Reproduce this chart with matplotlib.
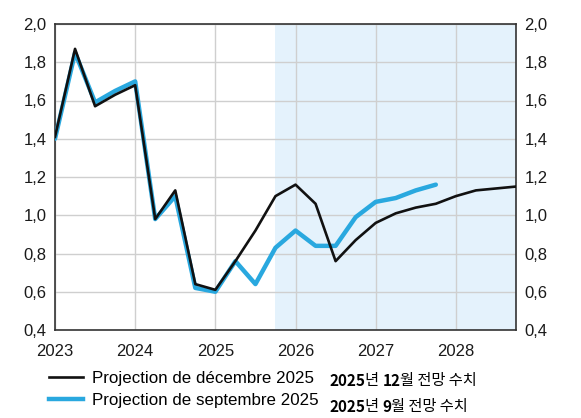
import numpy as np
import matplotlib
matplotlib.use("Agg")
import matplotlib.pyplot as plt

# quarterly points, 2023 Q1 .. 2028 Q4
quarters = np.arange(2023.0, 2029.0, 0.25)

proj_dec = [1.41, 1.87, 1.57, 1.63, 1.68, 0.98, 1.13, 0.64, 0.61, 0.76,
            0.92, 1.10, 1.16, 1.06, 0.76, 0.87, 0.96, 1.01, 1.04, 1.06,
            1.10, 1.13, 1.14, 1.15]
proj_sep = [1.40, 1.85, 1.59, 1.65, 1.70, 0.98, 1.10, 0.62, 0.60, 0.76,
            0.64, 0.83, 0.92, 0.84, 0.84, 0.99, 1.07, 1.09, 1.13, 1.16]

label_dec = "Projection de décembre 2025"
label_sep = "Projection de septembre 2025"
years = [2023, 2024, 2025, 2026, 2027, 2028]
yticks = [0.4, 0.6, 0.8, 1.0, 1.2, 1.4, 1.6, 1.8, 2.0]
shade_start = 2025.75

plt.rcParams['font.family'] = ['Liberation Sans', 'DejaVu Sans']

fig = plt.figure(figsize=(5.81, 4.18), dpi=100)
ax = fig.add_axes([55/581, 1 - 330/418, 461/581, 306/418])

ax.axvspan(shade_start, 2028.75, color='#e4f2fc', zorder=0, lw=0)
ax.plot(quarters[:len(proj_sep)], proj_sep, color='#29a8df', lw=3.2,
        label=label_sep, zorder=3, solid_capstyle='round')
ax.plot(quarters, proj_dec, color='#111111', lw=1.9, label=label_dec, zorder=4)

ax.set_xlim(2023, 2028.75)
ax.set_ylim(0.4, 2.0)
ax.set_xticks(years)
ax.set_xticklabels([str(y) for y in years])
ax.set_yticks(yticks)
ax.set_yticklabels([f"{v:.1f}".replace('.', ',') for v in yticks])
ax.grid(True, color='#cfcfcf', lw=1.0, zorder=1)
ax.set_axisbelow(True)
ax.tick_params(axis='both', length=0, labelsize=12, colors='#1a1a1a')
ax.tick_params(axis='y', pad=6, labelright=True, right=False)
ax.tick_params(axis='x', pad=10)
for s in ax.spines.values():
    s.set_color('#333333')
    s.set_linewidth(1.2)

# legend below the chart
h_dec, = ax.plot([], [], color='#111111', lw=1.9)
h_sep, = ax.plot([], [], color='#29a8df', lw=3.2)
fig.legend([h_dec, h_sep], [label_dec, label_sep], loc='upper left',
           bbox_to_anchor=(49/581, 1 - 371/418), frameon=False, fontsize=12.2,
           handlelength=2.0, handletextpad=0.55, labelspacing=0.42,
           borderaxespad=0, borderpad=0)

# Korean notes, bold numbers mixed with regular text
kfont = ['Noto Sans CJK KR', 'DejaVu Sans']

def annotate_chain(x, y, parts):
    t = ax.annotate(parts[0][0], xy=(x, y), xycoords='figure pixels',
                    family=kfont, fontsize=11, fontweight=parts[0][1],
                    va='baseline', ha='left', annotation_clip=False)
    for txt, w in parts[1:]:
        t = ax.annotate(txt, xy=(1, 0), xycoords=t, family=kfont,
                        fontsize=11, fontweight=w, va='bottom', ha='left',
                        annotation_clip=False)
    return t

annotate_chain(329, 418 - 386, [("2025", 'bold'), ("년 ", 'normal'),
                                ("12", 'bold'), ("월 전망 수치", 'normal')])
annotate_chain(329, 418 - 412, [("2025", 'bold'), ("년 ", 'normal'),
                                ("9", 'bold'), ("월 전망 수치", 'normal')])

fig.savefig("out.png", dpi=100)
